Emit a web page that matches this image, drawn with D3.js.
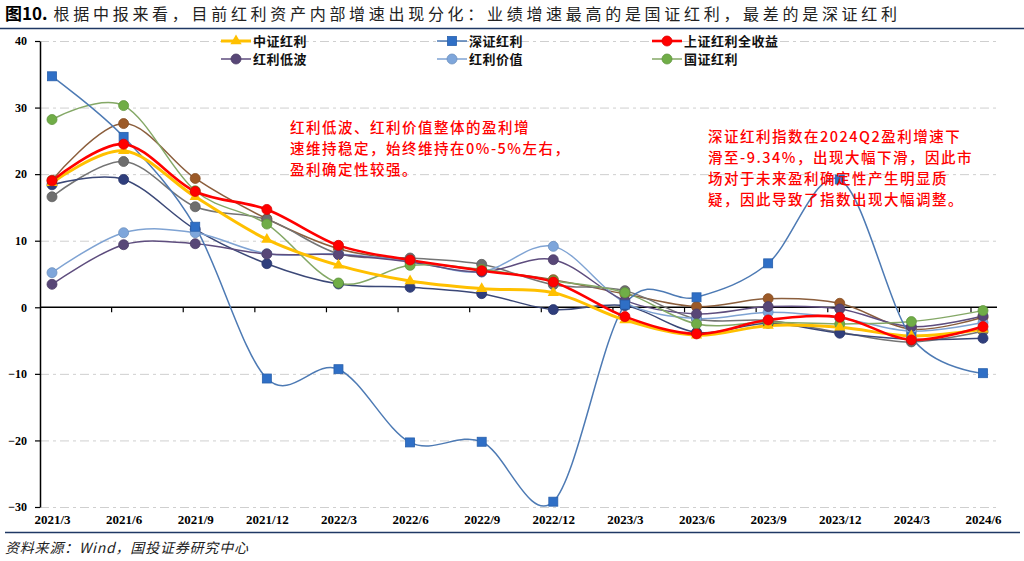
<!DOCTYPE html>
<html>
<head>
<meta charset="utf-8">
<script src="https://cdn.jsdelivr.net/npm/d3@7/dist/d3.min.js"></script>
<style>
  html, body { margin: 0; padding: 0; background: #fff; }
  svg { display: block; }
</style>
</head>
<body>
<svg id="chart" width="1024" height="561"></svg>
<script>
// ---------------- DATA ----------------
const categories = ["2021/3","2021/6","2021/9","2021/12","2022/3","2022/6","2022/9","2022/12","2023/3","2023/6","2023/9","2023/12","2024/3","2024/6"];
const yTicks = [-30, -20, -10, 0, 10, 20, 30, 40];

const zzhl   = [18.7, 23.5, 16.6, 10.2, 6.3, 3.95, 2.8, 2.2, -1.9, -4.2, -2.75, -3.0, -4.3, -3.3];   // 中证红利
const szhl   = [34.7, 25.6, 12.1, -10.7, -9.3, -20.3, -20.2, -29.2, 0.4, 1.5, 6.6, 19.2, -4.5, -9.9]; // 深证红利
const shqsy  = [19.0, 24.5, 17.4, 14.7, 9.3, 7.1, 5.5, 3.8, -1.4, -4.0, -1.9, -1.5, -4.9, -2.9];    // 上证红利全收益
const hldb   = [3.45, 9.4, 9.55, 8.0, 7.9, 6.8, 5.3, 7.15, 1.0, -1.0, 0.1, -0.25, -2.9, -1.3];      // 红利低波
const hljz   = [5.2, 11.2, 11.2, 8.05, 8.0, 6.9, 5.35, 9.15, 0.7, -1.7, -0.75, -1.6, -3.6, -2.3];  // 红利价值
const gzhl   = [28.2, 30.3, 17.5, 12.5, 3.65, 6.3, 5.7, 4.0, 2.2, -2.5, -2.25, -2.5, -2.15, -0.5]; // 国证红利
const extraA = [19.1, 27.6, 19.35, 13.3, 8.8, 7.0, 5.55, 4.15, 2.0, 0.1, 1.3, 0.6, -3.3, -1.5];    // (未列入图例)
const extraB = [16.6, 21.9, 15.1, 13.2, 8.05, 7.4, 6.45, 3.4, 2.5, -1.75, -2.0, -3.75, -5.2, -3.6]; // (未列入图例)
const extraC = [18.4, 19.2, 11.7, 6.55, 3.5, 3.0, 2.05, -0.35, 0.25, -3.75, -2.4, -3.9, -4.8, -4.65]; // (未列入图例)

const titleBold = "图10.";
const titleText = "根据中报来看，目前红利资产内部增速出现分化：业绩增速最高的是国证红利，最差的是深证红利";
const note1 = ["红利低波、红利价值整体的盈利增", "速维持稳定，始终维持在0%-5%左右，", "盈利确定性较强。"];
const note2 = ["深证红利指数在2024Q2盈利增速下", "滑至-9.34%，出现大幅下滑，因此市", "场对于未来盈利确定性产生明显质", "疑，因此导致了指数出现大幅调整。"];
const sourceText = "资料来源：Wind，国投证券研究中心";

// ---------------- SERIES STYLE ----------------
const series = [
  {name: null, values: extraA, line: "#8B5E3C", fill: "#9C5A28", width: 1.5, shape: "circle"},
  {name: null, values: extraB, line: "#747474", fill: "#6E6E6E", width: 1.5, shape: "circle"},
  {name: null, values: extraC, line: "#3B4877", fill: "#2F3E7C", width: 1.5, shape: "circle"},
  {name: "红利价值", values: hljz, line: "#7FA3D3", fill: "#7EA6DB", width: 1.5, shape: "circle"},
  {name: "红利低波", values: hldb, line: "#5E4D7E", fill: "#584777", width: 1.5, shape: "circle"},
  {name: "国证红利", values: gzhl, line: "#84A866", fill: "#70AD47", width: 1.5, shape: "circle"},
  {name: "深证红利", values: szhl, line: "#4D7AB4", fill: "#2F6FC6", width: 1.5, shape: "square"},
  {name: "中证红利", values: zzhl, line: "#FFC000", fill: "#FFC000", width: 3, shape: "triangle"},
  {name: "上证红利全收益", values: shqsy, line: "#FF0000", fill: "#FF0000", width: 2.6, shape: "circle"}
];
const legendOrder = [
  ["中证红利", 0, 0], ["深证红利", 1, 0], ["上证红利全收益", 2, 0],
  ["红利低波", 0, 1], ["红利价值", 1, 1], ["国证红利", 2, 1]
];

// ---------------- LAYOUT ----------------
const svg = d3.select("#chart");
svg.append("rect").attr("width", 1024).attr("height", 561).attr("fill", "#fff");

const x = d3.scalePoint().domain(categories).range([52, 983]);
const y = d3.scaleLinear().domain([-30, 40]).range([507, 41]);
const axisLeftX = 40, plotRight = 1000;

const cjk = "'Noto Sans CJK SC', 'Noto Sans', sans-serif";
const serif = "'Liberation Serif', 'DejaVu Serif', serif";

// Title
const title = svg.append("text").attr("x", 5).attr("y", 20)
  .attr("font-family", cjk).attr("font-size", 16).attr("fill", "#000");
title.append("tspan").attr("font-weight", "bold").attr("font-size", 17).text(titleBold);
title.append("tspan").attr("dx", 6).attr("letter-spacing", 3.7).attr("fill", "#222").text(titleText);

svg.append("line").attr("x1", 0).attr("x2", 1024).attr("y1", 28.5).attr("y2", 28.5)
  .attr("stroke", "#1F3864").attr("stroke-width", 1.5);
svg.append("line").attr("x1", 5).attr("x2", 1020).attr("y1", 532.5).attr("y2", 532.5)
  .attr("stroke", "#1F3864").attr("stroke-width", 1.5);

// Gridlines
svg.append("g").selectAll("line").data(yTicks.filter(d => d !== 0)).join("line")
  .attr("x1", axisLeftX).attr("x2", plotRight)
  .attr("y1", d => y(d) + 0.5).attr("y2", d => y(d) + 0.5)
  .attr("stroke", "#CFCFCF").attr("stroke-width", 1)
  .attr("stroke-dasharray", "9 4 3 4");

// Y axis
const yAxis = d3.axisLeft(y).tickValues(yTicks).tickSize(5).tickSizeOuter(0).tickPadding(8)
  .tickFormat(d3.format("d"));
const gy = svg.append("g").attr("transform", `translate(${axisLeftX},0)`).call(yAxis);
gy.select(".domain").attr("stroke", "#000").attr("stroke-width", 1.5);
gy.selectAll(".tick line").attr("stroke", "#000").attr("stroke-width", 1.2);
gy.selectAll(".tick text").attr("font-family", serif).attr("font-weight", "bold")
  .attr("font-size", 12).attr("fill", "#000");

// Zero line with boundary ticks
svg.append("line").attr("x1", axisLeftX).attr("x2", 997).attr("y1", y(0)).attr("y2", y(0))
  .attr("stroke", "#000").attr("stroke-width", 1.6);
svg.append("g").selectAll("line").data(categories.slice(1)).join("line")
  .attr("x1", d => x(d) - 12).attr("x2", d => x(d) - 12)
  .attr("y1", y(0)).attr("y2", y(0) + 5)
  .attr("stroke", "#000").attr("stroke-width", 1.2);

// X labels at bottom
const xAxis = d3.axisBottom(x).tickSize(0).tickPadding(0);
const gx = svg.append("g").attr("transform", `translate(0,515)`).call(xAxis);
gx.select(".domain").remove();
gx.selectAll(".tick text").attr("font-family", serif).attr("font-weight", "bold")
  .attr("font-size", 13).attr("fill", "#000").attr("dy", "0.71em");

// Lines
const lineGen = d3.line().x((d, i) => x(categories[i])).y(d => y(d)).curve(d3.curveCatmullRom.alpha(0));
const gLines = svg.append("g");
series.forEach(s => {
  gLines.append("path").datum(s.values).attr("d", lineGen)
    .attr("fill", "none").attr("stroke", s.line).attr("stroke-width", s.width)
    .attr("stroke-linejoin", "round");
});

function drawMarker(g, shape, cx, cy, fill, stroke) {
  if (shape === "circle") {
    g.append("circle").attr("cx", cx).attr("cy", cy).attr("r", 5)
      .attr("fill", fill).attr("stroke", stroke).attr("stroke-width", 0.8);
  } else if (shape === "square") {
    g.append("rect").attr("x", cx - 4.5).attr("y", cy - 4.5).attr("width", 9).attr("height", 9)
      .attr("fill", fill).attr("stroke", stroke).attr("stroke-width", 0.8);
  } else {
    g.append("path").attr("d", d3.symbol(d3.symbolTriangle, 55)())
      .attr("transform", `translate(${cx},${cy})`).attr("fill", fill);
  }
}
const gMarks = svg.append("g");
series.forEach(s => {
  s.values.forEach((v, i) => {
    drawMarker(gMarks, s.shape, x(categories[i]), y(v), s.fill, d3.color(s.fill).darker(0.4));
  });
});

// Legend
const legendColX = [221, 437, 652];
const legendRowY = [41, 59];
const gLeg = svg.append("g");
legendOrder.forEach(([name, c, r]) => {
  const s = series.find(t => t.name === name);
  const lx = legendColX[c], ly = legendRowY[r];
  gLeg.append("line").attr("x1", lx).attr("x2", lx + 30).attr("y1", ly).attr("y2", ly)
    .attr("stroke", s.line).attr("stroke-width", s.width);
  drawMarker(gLeg, s.shape, lx + 15, ly, s.fill, d3.color(s.fill).darker(0.4));
  gLeg.append("text").attr("x", lx + 32).attr("y", ly).attr("dy", "0.36em")
    .attr("font-family", cjk).attr("font-weight", "bold").attr("font-size", 13)
    .attr("letter-spacing", 0.5).attr("fill", "#111").text(name);
});

// Annotations
function note(lines, x0, y0) {
  const t = svg.append("text").attr("font-family", cjk).attr("font-size", 14.5)
    .attr("letter-spacing", 1.5).attr("font-weight", 500).attr("fill", "#FF0000");
  lines.forEach((l, i) => t.append("tspan").attr("x", x0).attr("y", y0 + i * 21).text(l));
}
note(note1, 290, 133);
note(note2, 708, 142);

// Source
svg.append("text").attr("x", 5).attr("y", 553).attr("font-family", cjk)
  .attr("font-style", "italic").attr("font-size", 14).attr("letter-spacing", 0.8)
  .attr("fill", "#222").text(sourceText);
</script>
</body>
</html>
